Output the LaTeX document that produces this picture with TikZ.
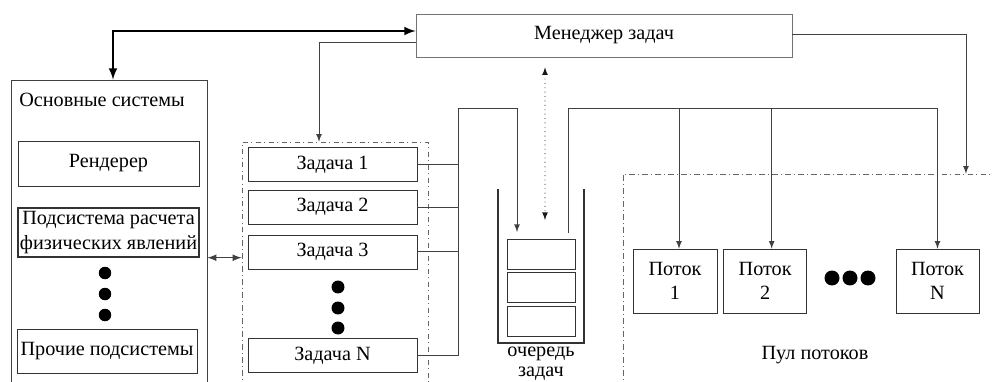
\documentclass[tikz,border=0pt]{standalone}
\usepackage{fontspec}
\setmainfont{Liberation Serif}
\usetikzlibrary{positioning}

\tikzset{
  blk/.style={draw=black!80, minimum width=#1, minimum height=0.68cm, inner sep=1pt, align=center},
  blk/.default=3.38cm,
  outbox/.style={draw=black!75, minimum width=#1},
  poolbox/.style={draw=black!60, dash dot, minimum width=#1},
  bullet/.style={circle, fill=black, inner sep=0pt, minimum size=#1},
  bullet/.default=0.25cm,
  wire/.style={draw=black!75, line width=0.5pt},
}

\begin{document}
\begin{tikzpicture}[x=0.02cm,y=-0.02cm,>=latex,font=\fontsize{11.5}{13.8}\selectfont]
  \useasboundingbox (0,0) rectangle (992,382);
  % manager
  \node[blk=7.52cm, minimum height=0.86cm, draw=black!55] (mgr) at (604,35.5) {Менеджер задач};
  % main systems
  \node[outbox=3.92cm, minimum height=6.4cm] (sys) at (109,240) {};
  \node[anchor=west, inner sep=0pt] (sys_t) at (19,100) {Основные системы};
  \node[blk=3.62cm, minimum height=0.9cm] (rnd) at (108.5,163.5) {Рендерер};
  \node[blk=3.62cm, minimum height=0.98cm, line width=0.8pt] (phys) at (108.5,232.5) {Подсистема расчета\\физических явлений};
  \node[bullet] (s_d1) at (105,273) {};
  \node[bullet] (s_d2) at (105,294) {};
  \node[bullet] (s_d3) at (105,315) {};
  \node[blk=3.6cm, minimum height=0.88cm] (misc) at (107,351) {Прочие подсистемы};
  % tasks
  \node[poolbox=3.72cm, minimum height=5.16cm] (tasks) at (335,271) {};
  \node[blk] (t_1) at (332.5,164.5) {Задача 1};
  \node[blk] (t_2) [below=0.16cm of t_1] {Задача 2};
  \node[blk] (t_3) [below=0.2cm of t_2] {Задача 3};
  \node[blk] (t_n) at (332.5,355.5) {Задача N};
  \node[bullet=0.26cm] (t_d1) at (338,287) {};
  \node[bullet=0.26cm] (t_d2) at (338,308) {};
  \node[bullet=0.26cm] (t_d3) at (338,328) {};
  % queue
  \draw[draw=black!80, line width=0.6pt] (498,189) |- (584,343) -- (584,189);
  \node[blk=1.36cm, minimum height=0.6cm] (q_1) at (541,254) {};
  \node[blk=1.36cm, minimum height=0.6cm] (q_2) [below=0.06cm of q_1] {};
  \node[blk=1.36cm, minimum height=0.6cm] (q_3) [below=0.06cm of q_2] {};
  \node[align=center, inner sep=0pt, font=\fontsize{11.5}{11.4}\selectfont] (q_t) at (541,364) {очередь\\задач};
  % thread pool
  \node[poolbox=7.74cm, minimum height=4.52cm] (pool) at (816.5,287) {};
  \node[blk=1.68cm, minimum height=1.28cm] (p_1) at (675,281) {Поток\\1};
  \node[blk=1.66cm, minimum height=1.28cm] (p_2) [right=0.12cm of p_1] {Поток\\2};
  \node[blk=1.66cm, minimum height=1.28cm] (p_n) at (937.5,281) {Поток\\N};
  \node[bullet=0.3cm] (p_d1) at (832,278) {};
  \node[bullet=0.3cm] (p_d2) at (850,278) {};
  \node[bullet=0.3cm] (p_d3) at (868,278) {};
  \node (pool_t) at (815,355) {Пул потоков};

  % connectors
  \coordinate (bus) at (458,108);
  \coordinate (q_in) at (517,232);
  \coordinate (q_dot) at (545,220);
  \coordinate (q_out) at (568,233);
  \coordinate (p_1in) at ([xshift=0.08cm]p_1.north);
  \coordinate (p_2in) at ([xshift=0.13cm]p_2.north);
  \draw[wire, line width=1.2pt, draw=black, <->] ([yshift=0.09cm]mgr.west) -| ([xshift=0.08cm]sys.north);
  \draw[wire, ->] ([yshift=-0.13cm]mgr.west) -| ([xshift=-0.32cm]tasks.north);
  \draw[wire, ->] ([yshift=0.03cm]mgr.east) -| ([xshift=2.99cm]pool.north);
  \draw[wire, dotted, draw=black!90, <->] ([xshift=-1.18cm,yshift=-0.2cm]mgr.south) -- (q_dot);
  \draw[wire, line width=0.8pt, <->] (phys.south -| sys.east) -- (phys.south -| tasks.west);
  \draw[wire] (t_1.east) -- (t_1.east -| bus);
  \draw[wire] (t_2.east) -- (t_2.east -| bus);
  \draw[wire] (t_3.east) -- (t_3.east -| bus);
  \draw[wire, ->] (t_n.east) -| (bus) -| (q_in);
  \draw[wire, ->] (q_out) |- (p_n.north |- bus) -- (p_n.north);
  \draw[wire, ->] (p_1in |- bus) -- (p_1in);
  \draw[wire, ->] (p_2in |- bus) -- (p_2in);
\end{tikzpicture}
\end{document}
